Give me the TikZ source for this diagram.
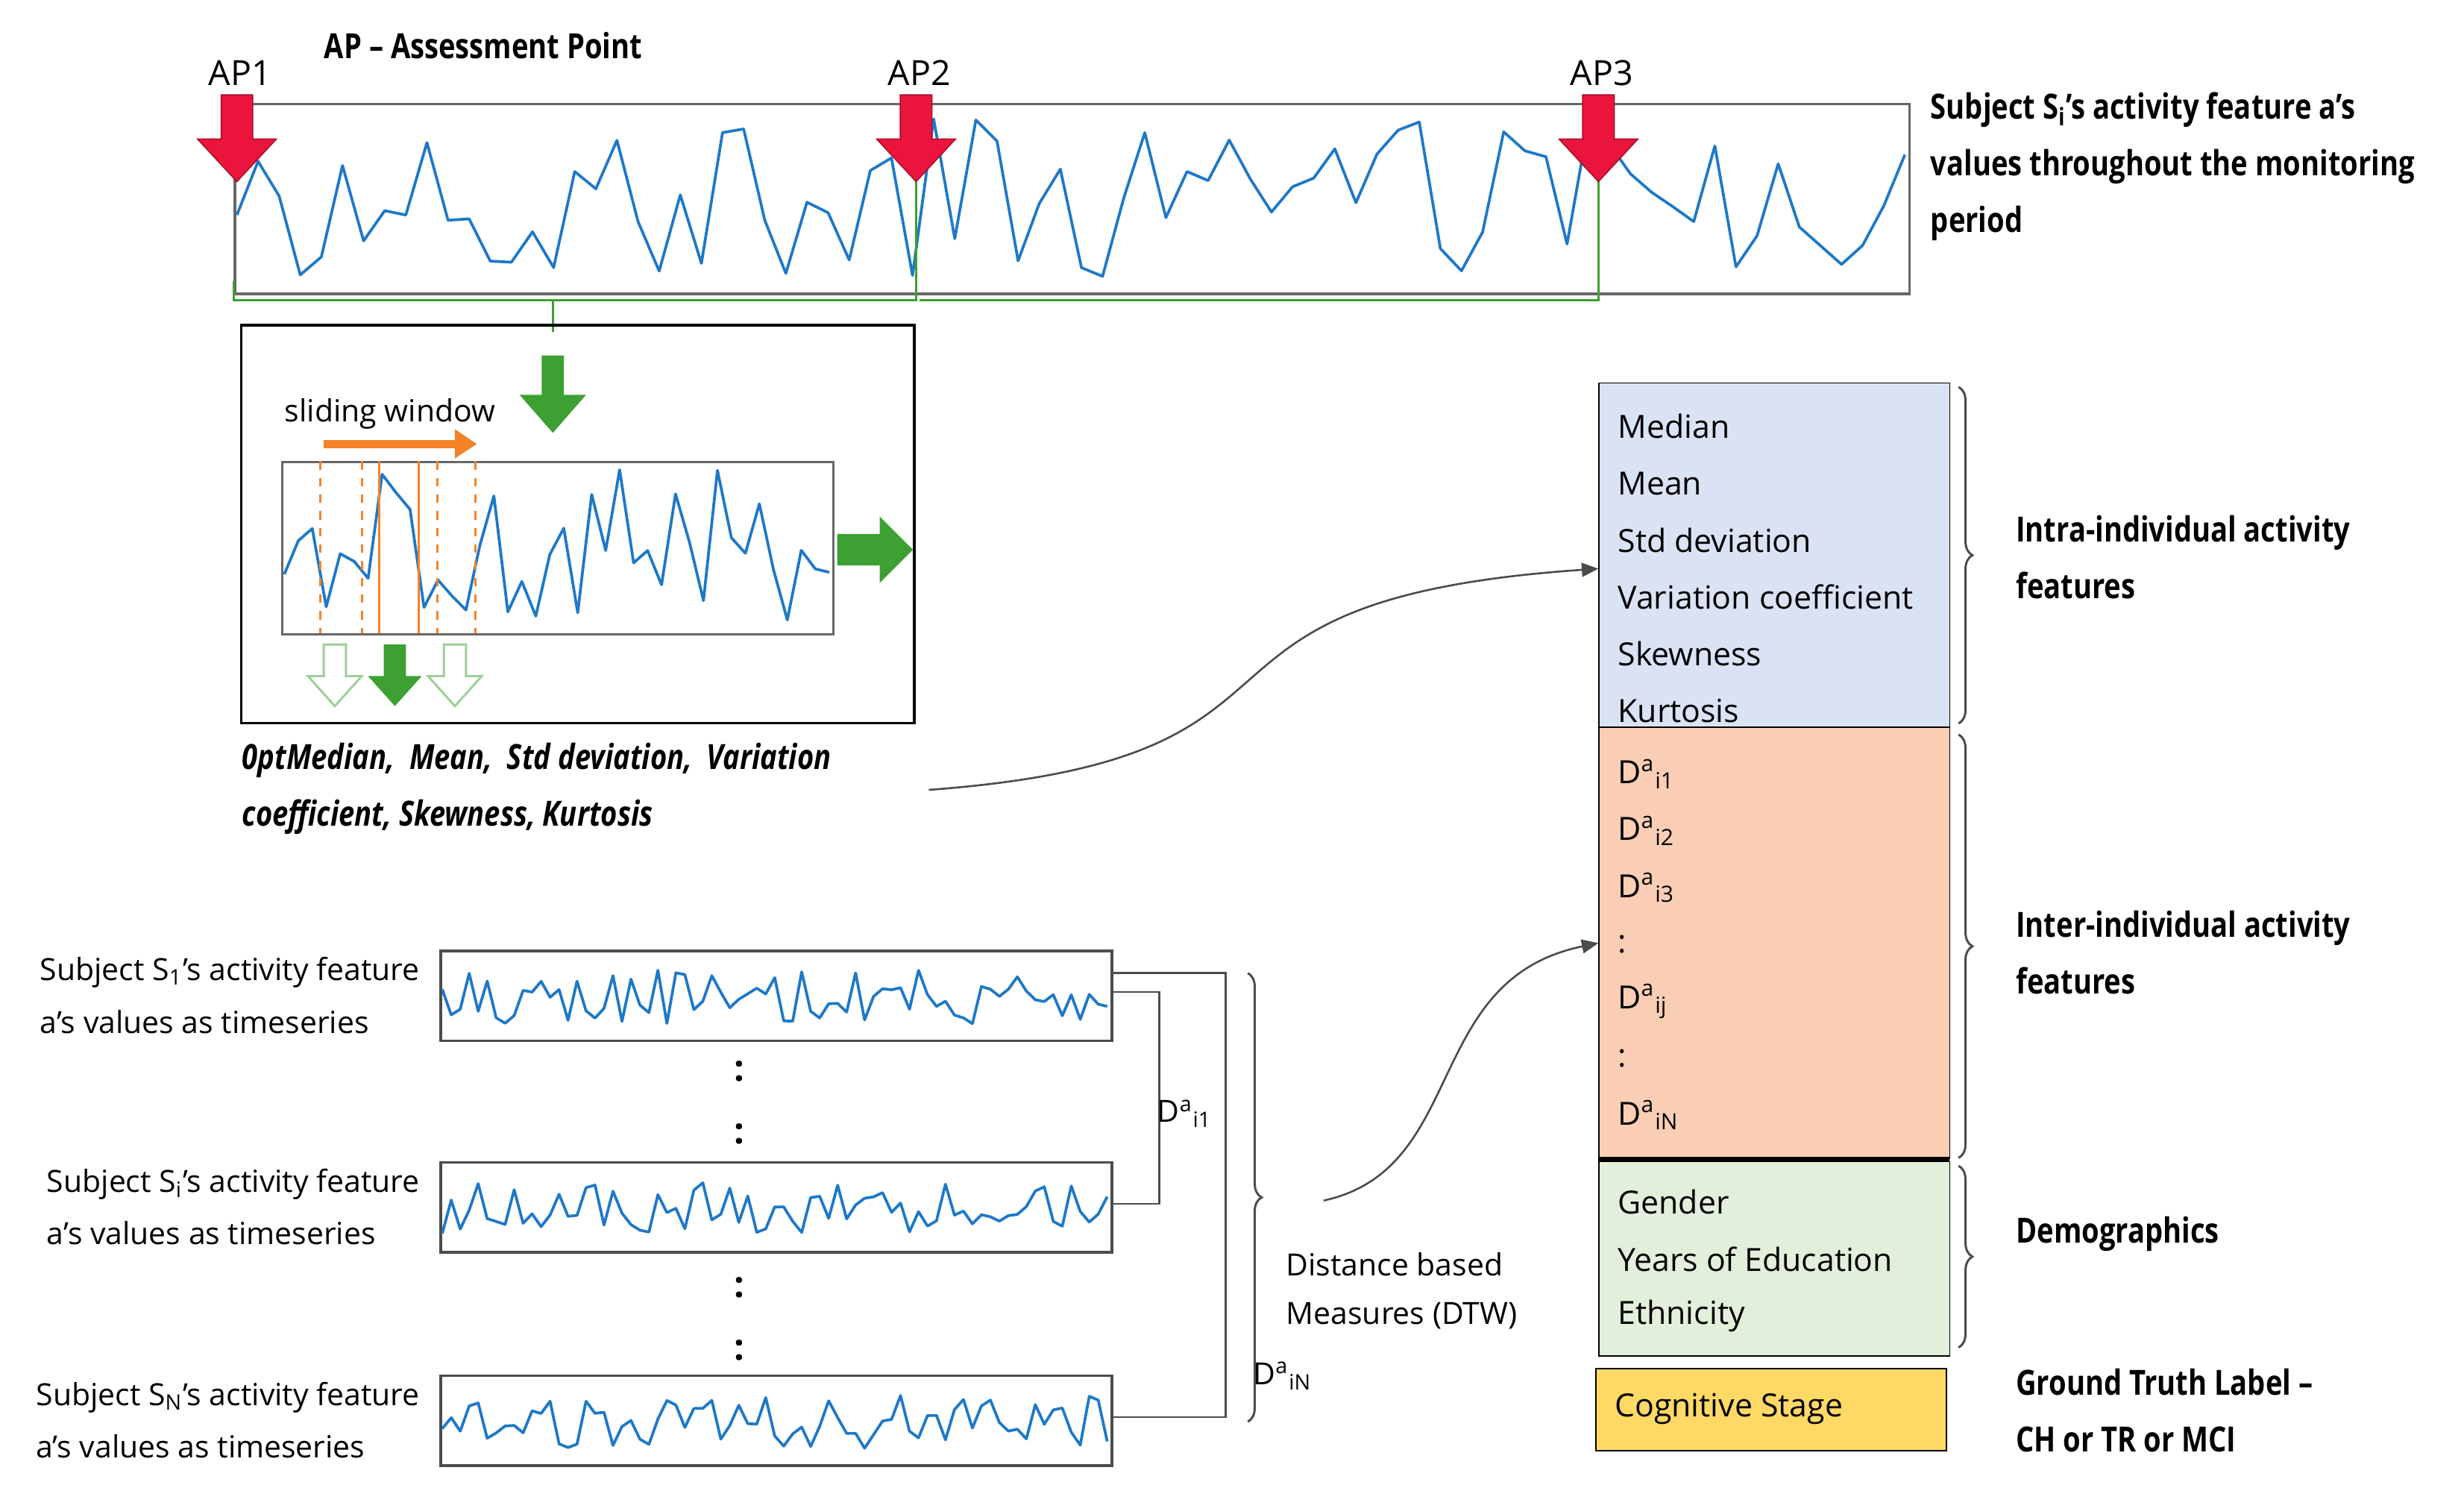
\documentclass[tikz,border=0pt]{standalone}
\usepackage{fontspec}
\setmainfont{Open Sans}
\newfontfamily\cond{Open Sans}[FakeStretch=0.82]
\usepackage{xcolor}
\usetikzlibrary{positioning,decorations.pathreplacing,arrows.meta}
\definecolor{tsblue}{RGB}{30,120,200}
\definecolor{boxblue}{RGB}{218,227,243}
\definecolor{boxpeach}{RGB}{250,206,180}
\definecolor{boxgreen}{RGB}{226,239,218}
\definecolor{boxyellow}{RGB}{255,217,102}
\definecolor{apred}{RGB}{235,20,60}
\definecolor{wingreen}{RGB}{60,160,50}
\definecolor{winorange}{RGB}{245,130,40}

\newcommand{\tseries}[5]{% x0, x1, ymid, amp, samples
  \draw[series] plot[domain=#1:#2, samples=#5] (\x, {#3+#4*rand});}

\begin{document}
\begin{tikzpicture}[x=0.02cm, y=-0.02cm,
  font=\fontsize{11}{19}\selectfont,
  series/.style={tsblue, line width=1pt, line join=round},
  frame/.style={draw=black!60, line width=1pt},
  heading/.style={font=\cond\bfseries\fontsize{12.5}{20.5}\selectfont, align=left, anchor=north west, inner sep=0pt},
  feat/.style={anchor=west, inner sep=0pt, font=\fontsize{11.5}{14}\selectfont},
  hollow/.style={draw=wingreen!50, fill=white},
  solid/.style={fill=wingreen},
  brace/.style={decorate, decoration={brace, amplitude=5pt}, draw=black!70, line width=0.8pt},
  conn/.style={draw=black!70, line width=0.7pt}]
\useasboundingbox (0,0) rectangle (1560,940);
\pgfmathsetseed{7}

% top monitoring series
\node[frame, minimum width=1060*0.02cm, minimum height=120*0.02cm, anchor=north west, inner sep=0pt] (top) at (148,65) {};
\tseries{150}{1206}{125}{50}{80}
\draw[wingreen, line width=0.8pt] (148,178) |- (580,190) -- (580,112);
\draw[wingreen, line width=0.8pt] (582,190) -| (1012,112);
\draw[wingreen, line width=0.8pt] (350,190) -- (350,210);
\foreach \xx/\nm in {150/AP1, 580/AP2, 1012/AP3} {
  \fill[apred, draw=apred!70!black] (\xx-10,60) -- (\xx+10,60) -- (\xx+10,88) -- (\xx+25,88)
     -- (\xx,115) -- (\xx-25,88) -- (\xx-10,88) -- cycle;
  \node[font=\fontsize{12.5}{14}\selectfont] (\nm) at (\xx+2,46) {\nm};
}
\node[heading] (apkey) at (205,20) {AP \textendash{} Assessment Point};
\node[heading] (subjtop) at (1222,58) {Subject S\textsubscript{i}’s activity feature a’s\\values throughout the monitoring\\period};

% sliding window panel
\node[draw, line width=0.9pt, minimum width=426*0.02cm, minimum height=252*0.02cm, anchor=north west, inner sep=0pt] (panel) at (152,205) {};
\node[anchor=south west, inner sep=0pt] (slide) at (180,272) {sliding window};
\fill[wingreen] (343,225) -- (357,225) -- (357,250) -- (371,250) -- (350,274) -- (329,250) -- (343,250) -- cycle;
\node[frame, line width=0.8pt, minimum width=349*0.02cm, minimum height=109*0.02cm, anchor=north west, inner sep=0pt] (inner) at (178,292) {};
\tseries{180}{525}{345}{48}{40}
\foreach \xx in {203,229,277,301} \draw[winorange, dashed, line width=0.8pt] (\xx,292) -- (\xx,401);
\foreach \xx in {240,265} \draw[winorange, line width=0.9pt] (\xx,292) -- (\xx,401);
\draw[winorange, line width=3pt, -{Triangle[length=8pt,width=10pt]}] (205,281) -- (302,281);
\fill[wingreen] (530,338) -- (557,338) -- (557,327) -- (578,348) -- (557,369) -- (557,358) -- (530,358) -- cycle;
\foreach \xx/\st in {212/hollow, 250/solid, 288/hollow}
  \path[\st, line width=0.8pt] (\xx-7,408) -- (\xx+7,408) -- (\xx+7,428) -- (\xx+17,428) -- (\xx,447) -- (\xx-17,428) -- (\xx-7,428) -- cycle;
\node[anchor=north west, inner sep=0pt, text width=420*0.02cm, align=justify,
      font=\bfseries\itshape\cond\fontsize{12.5}{20.5}\selectfont\hyphenpenalty=10000] (stats) at (153,470)
  {Median, \ Mean, \ Std deviation, \ Variation\\ coefficient, Skewness, Kurtosis};

% feature vector
\node[draw, fill=boxblue, minimum width=222*0.02cm, minimum height=218*0.02cm, anchor=north west, inner sep=0pt] (intra) at (1012,242) {};
\node[draw, fill=boxpeach, minimum width=222*0.02cm, minimum height=273*0.02cm, anchor=north west, inner sep=0pt] (inter) at (1012,460) {};
\node[draw, fill=boxgreen, minimum width=222*0.02cm, minimum height=123*0.02cm, anchor=north west, inner sep=0pt] (demo) at (1012,735) {};
\draw[line width=2pt] (1012,734) -- (1234,734);
\node[draw, fill=boxyellow, minimum width=222*0.02cm, minimum height=52*0.02cm, anchor=north west, inner sep=0pt] (cog) at (1010,866) {};
\node[feat] at (1022,892) {Cognitive Stage};
\foreach \t [count=\k] in {Median, Mean, Std deviation, Variation coefficient, Skewness, Kurtosis}
  \node[feat] at (1024,234+36*\k) {\t};
\foreach \t [count=\k] in {D\textsuperscript{a}\textsubscript{i1}, D\textsuperscript{a}\textsubscript{i2}, D\textsuperscript{a}\textsubscript{i3}, :, D\textsuperscript{a}\textsubscript{ij}, :, D\textsuperscript{a}\textsubscript{iN}}
  \node[feat] at (1024,454+36*\k) {\t};
\foreach \t [count=\k] in {Gender, Years of Education, Ethnicity}
  \node[feat] at (1024,725+36*\k) {\t};
\draw[brace] (1240,245) -- (1240,458);
\draw[brace] (1240,465) -- (1240,733);
\draw[brace] (1240,738) -- (1240,853);
\node[heading] (intralab) at (1276,326) {Intra-individual activity\\features};
\node[heading] (interlab) at (1276,576) {Inter-individual activity\\features};
\node[heading] (demolab) at (1276,770) {Demographics};
\node[heading] (gtlab) at (1276,866) {Ground Truth Label \textendash\\CH or TR or MCI};

% population series
\foreach \yy/\nm/\sb in {601/s1/1, 735/si/i, 870/sN/N} {
  \node[frame, draw=black!70, minimum width=425*0.02cm, minimum height=57*0.02cm, anchor=north west, inner sep=0pt] (\nm) at (278,\yy) {};
  \tseries{280}{701}{\yy+30}{17}{75}
  \node[anchor=east, align=left, inner sep=0pt] (\nm lab) at (266,\yy+29) {Subject S\textsubscript{\sb}’s activity feature\\a’s values as timeseries};
}
\foreach \yy in {678,718,815,855} \node[font=\bfseries\fontsize{13}{14}\selectfont] at (468,\yy) {:};
\draw[conn] (s1.east |- 0,628) -| (734,762) -- (si.east |- 0,762);
\draw[conn] (s1.east |- 0,616) -| (776,897) -- (sN.east |- 0,897);
\node[inner sep=0pt] (d1) at (750,705) {D\textsuperscript{a}\textsubscript{i1}};
\node[inner sep=0pt] (dN) at (812,871) {D\textsuperscript{a}\textsubscript{iN}};
\draw[brace] (790,616) -- (790,900);
\node[anchor=west, align=left, inner sep=0pt, font=\fontsize{11}{17.5}\selectfont] (dtw) at (814,817) {Distance based\\Measures (DTW)};

% curved connectors
\draw[conn, -{Triangle[length=6pt,width=5pt]}] (588,500) .. controls (860,480) and (720,380) .. (intra.west |- 0,360);
\draw[conn, -{Triangle[length=6pt,width=5pt]}] (838,760) .. controls (930,740) and (900,620) .. (inter.west |- 0,597);
\end{tikzpicture}
\end{document}
